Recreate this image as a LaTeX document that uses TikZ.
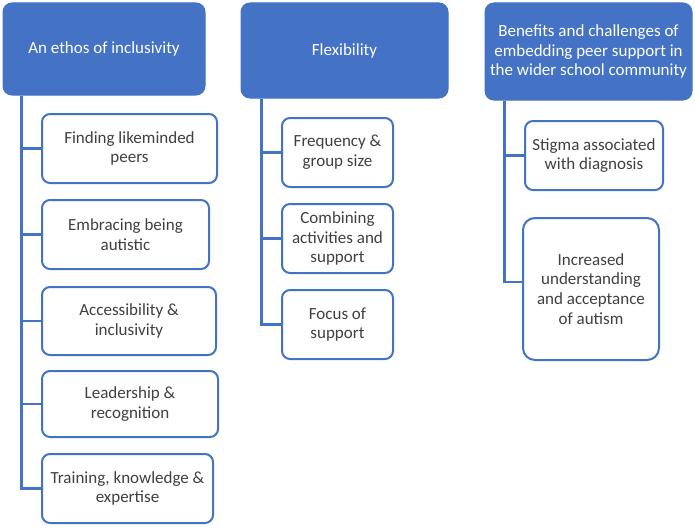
\documentclass[tikz,border=0pt]{standalone}
\usepackage{fontspec}
\setmainfont{Carlito}
\definecolor{hblue}{HTML}{4472C4}
\definecolor{tgrey}{HTML}{404040}
\tikzset{
  head/.style={draw=hblue, fill=hblue, line width=1pt, rounded corners=9pt, inner sep=0pt,
    align=center, text=white, font=\fontsize{17pt}{19.8pt}\selectfont},
  item/.style={draw=hblue, fill=white, line width=2pt, rounded corners=8pt, inner sep=0pt,
    align=center, text=tgrey, font=\fontsize{17pt}{19.8pt}\selectfont},
  tree/.style={draw=hblue, line width=2.2pt}
}
\begin{document}
\begin{tikzpicture}[x=1pt,y=-1pt]
\useasboundingbox (0,0) rectangle (695,527);
% headers
\node[head, minimum width=202, minimum height=92] (h1) at (104,49) {An ethos of inclusivity};
\node[head, minimum width=207, minimum height=95] (h2) at (344.5,50.5) {Flexibility};
\node[head, minimum width=207, minimum height=97] (h3) at (588.5,51.5) {Benefits and challenges of\\embedding peer support in\\the wider school community};
% left column
\node[item, minimum width=175, minimum height=69] (a1) at (129.5,148.5) {Finding likeminded\\peers};
\node[item, minimum width=167, minimum height=69] (a2) at (125.5,234.5) {Embracing being\\autistic};
\node[item, minimum width=174, minimum height=68] (a3) at (129,321) {Accessibility \&\\inclusivity};
\node[item, minimum width=176, minimum height=66] (a4) at (130,404) {Leadership \&\\recognition};
\node[item, minimum width=171, minimum height=69] (a5) at (127.5,488.5) {Training, knowledge \&\\expertise};
% middle column
\node[item, minimum width=111, minimum height=69] (b1) at (337.5,152.5) {Frequency \&\\group size};
\node[item, minimum width=111, minimum height=69] (b2) at (337.5,238.5) {Combining\\activities and\\support};
\node[item, minimum width=111, minimum height=69] (b3) at (337.5,324.5) {Focus of\\support};
% right column
\node[item, minimum width=138, minimum height=69] (c1) at (594,155.5) {Stigma associated\\with diagnosis};
\node[item, rounded corners=12pt, minimum width=136, minimum height=142] (c2) at (591,289) {Increased\\understanding\\and acceptance\\of autism};
% connectors
\coordinate (t1) at ([xshift=19]h1.south west);
\coordinate (t2) at ([xshift=21]h2.south west);
\coordinate (t3) at ([xshift=20]h3.south west);
\draw[tree] (t1) |- (a5.west);
\foreach \n in {a1,a2,a3,a4} \draw[tree] (t1) |- (\n.west);
\draw[tree] (t2) |- (b3.west);
\foreach \n in {b1,b2} \draw[tree] (t2) |- (\n.west);
\draw[tree] (t3) |- ([yshift=7]c2.west);
\draw[tree] (t3) |- (c1.west);
\end{tikzpicture}
\end{document}
